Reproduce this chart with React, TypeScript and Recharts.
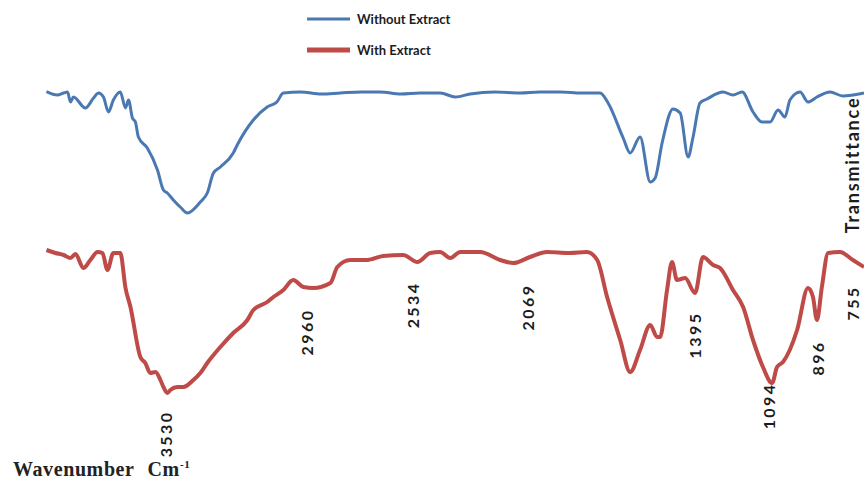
import React from 'react';
import { LineChart, Line, XAxis, YAxis, ReferenceDot, Legend } from 'recharts';

// FTIR spectra (wavenumber in cm-1, transmittance in offset units so the two traces stack)
const withoutWavenumber = [
  4010, 3966, 3941, 3925, 3913, 3901, 3853, 3820, 3800, 3780, 3760, 3740, 3712, 3691, 3679,
  3663, 3651, 3639, 3603, 3562, 3538, 3522, 3498, 3470, 3441, 3389, 3361, 3336, 3308, 3256,
  3240, 3175, 3119, 3080, 3054, 2985, 2900, 2824, 2740, 2663, 2580, 2501, 2420, 2360, 2300,
  2200, 2098, 2020, 1937, 1850, 1775, 1743, 1682, 1654, 1614, 1573, 1553, 1525, 1481, 1452,
  1420, 1400, 1372, 1344, 1279, 1239, 1202, 1158, 1122, 1089, 1057, 1029, 1009, 968, 936,
  900, 847, 795, 755, 710,
];
const withoutTransmittance = [
  87.1, 86.25, 86.75, 87, 84.5, 85.75, 83, 85.5, 86.75, 85.75, 82, 85, 87, 83, 85,
  80.5, 79.5, 75.75, 73, 67.5, 62.5, 61.75, 60, 58.25, 56.75, 59.5, 61.75, 66.75, 68.25, 71.75,
  73.75, 80, 83.25, 84.5, 86.75, 87, 86.5, 86.75, 87, 87, 86.5, 86.75, 86.75, 85.75, 86.5,
  87, 86.75, 87, 87, 86.75, 86.75, 84.25, 75.5, 71.75, 75.75, 64.5, 65.5, 74.25, 82.75, 81.75,
  70.75, 75.75, 84.25, 85.25, 87, 86.25, 87, 82, 79.5, 79.5, 82.5, 80.75, 85, 87, 84.5,
  85.75, 87, 86, 86.25, 86.75,
];

const withWavenumber = [
  4010, 3974, 3941, 3913, 3893, 3861, 3833, 3804, 3784, 3764, 3740, 3712, 3691, 3671, 3631,
  3611, 3591, 3570, 3550, 3538, 3522, 3510, 3482, 3457, 3417, 3389, 3361, 3308, 3256, 3199,
  3175, 3119, 3094, 3054, 3014, 2973, 2933, 2864, 2836, 2784, 2715, 2651, 2570, 2513, 2461,
  2421, 2380, 2340, 2259, 2179, 2126, 2058, 1989, 1900, 1828, 1787, 1747, 1694, 1654, 1614,
  1573, 1545, 1533, 1505, 1485, 1465, 1432, 1392, 1360, 1319, 1291, 1239, 1198, 1158, 1118,
  1081, 1061, 1037, 980, 936, 916, 900, 880, 855, 807, 755, 710,
];
const withTransmittance = [
  47.5, 46.75, 46.25, 45.5, 46.5, 43, 45, 47, 46.75, 42.5, 46.75, 46.75, 38, 33.25, 20.75,
  19.25, 16.75, 17, 15, 13.25, 11.75, 12.5, 13.25, 13.25, 15, 16.75, 19.25, 23.25, 26.75, 30,
  32.5, 34.5, 35.75, 37.5, 40, 38.25, 38, 39.25, 43.25, 45, 45, 46, 46.25, 44.5, 46.75,
  47, 45.5, 47, 47, 45, 44.25, 45.75, 47, 46.75, 47, 45, 35.75, 25, 17, 22.5,
  28.75, 25.75, 25.75, 37.5, 44.5, 40, 40.5, 36.75, 45.75, 43.75, 43, 37.5, 33.25, 25, 18.25,
  14.25, 18.25, 19.5, 27.5, 38, 35.75, 30, 38.25, 46.75, 47, 45, 43.25,
];

// Assigned bands and the height at which each band label sits
const bandWavenumbers = [3530, 2960, 2534, 2069, 1395, 1094, 896, 755];
const bandLabelLevels = [1.5, 27, 33.75, 33.25, 26.25, 8.5, 20.5, 34.25];

const seriesNames = ['Without Extract', 'With Extract'];
const seriesColors = ['#4A78B2', '#BE4B48'];
const seriesWidths = [3, 4];
const legendWidths = [3, 5];

const toPoints = (w: number[], t: number[]) => w.map((x, i) => ({ w: x, t: t[i] }));
const withoutData = toPoints(withoutWavenumber, withoutTransmittance);
const withData = toPoints(withWavenumber, withTransmittance);

const sansFont = "Lato, 'Open Sans', 'DejaVu Sans', sans-serif";
const serifFont = "'Liberation Serif', 'DejaVu Serif', serif";

const BandLabel = (props: any) => {
  const { viewBox, value } = props;
  const cx = viewBox.x + (viewBox.width || 0) / 2;
  const cy = viewBox.y + (viewBox.height || 0) / 2;
  return (
    <text
      x={cx}
      y={cy}
      transform={`rotate(-90 ${cx} ${cy})`}
      textAnchor="middle"
      dominantBaseline="central"
      fontFamily={sansFont}
      fontWeight={700}
      fontSize={16}
      letterSpacing={2.4}
      fill="#1c1c1c"
    >
      {value}
    </text>
  );
};

const XTitle = (props: any) => {
  const { viewBox } = props;
  return (
    <text
      x={viewBox.x - 31}
      y={viewBox.y + 36}
      fontFamily={serifFont}
      fontWeight={700}
      fontSize={20}
      letterSpacing={0.6}
      fill="#222"
    >
      Wavenumber
      <tspan dx={13}>Cm</tspan>
      <tspan dy={-8} fontSize={11}>-1</tspan>
    </text>
  );
};

// Vertical axis title, anchored on the right edge of the plot
const YTitle = (props: any) => {
  const { viewBox } = props;
  const cx = viewBox.x - 5;
  const cy = viewBox.y;
  return (
    <text
      x={cx}
      y={cy}
      transform={`rotate(-90 ${cx} ${cy})`}
      textAnchor="middle"
      fontFamily={sansFont}
      fontWeight={700}
      fontSize={18}
      letterSpacing={1.8}
      fill="#1c1c1c"
    >
      Transmittance
    </text>
  );
};

const LegendBox = () => (
  <svg width={180} height={64}>
    {seriesNames.map((name, i) => {
      const y = 19 + 31 * i;
      return (
        <g key={name}>
          <line x1={7} x2={50} y1={y} y2={y} stroke={seriesColors[i]} strokeWidth={legendWidths[i]} />
          <text
            x={57}
            y={y}
            dominantBaseline="central"
            fontFamily={sansFont}
            fontWeight={700}
            fontSize={13}
            fill="#1c1c1c"
          >
            {name}
          </text>
        </g>
      );
    })}
  </svg>
);

export default function App() {
  return (
    <div style={{ position: 'absolute', left: 0, top: 0, width: 864, height: 487, overflow: 'hidden', background: '#fff' }}>
      <LineChart width={864} height={487} margin={{ top: 40, right: 0, bottom: 0, left: 44 }}>
        <XAxis
          type="number"
          dataKey="w"
          domain={[710, 4020]}
          reversed
          allowDataOverflow
          tick={false}
          tickLine={false}
          axisLine={false}
          height={47}
          label={{ content: XTitle }}
        />
        <YAxis type="number" domain={[0, 100]} allowDataOverflow hide />
        <Legend
          layout="vertical"
          align="center"
          verticalAlign="middle"
          wrapperStyle={{ top: 0, left: 300, width: 180 }}
          content={LegendBox}
        />
        <Line
          data={withoutData}
          dataKey="t"
          name={seriesNames[0]}
          stroke={seriesColors[0]}
          strokeWidth={seriesWidths[0]}
          dot={false}
          type="monotone"
          isAnimationActive={false}
        />
        <Line
          data={withData}
          dataKey="t"
          name={seriesNames[1]}
          stroke={seriesColors[1]}
          strokeWidth={seriesWidths[1]}
          dot={false}
          type="monotone"
          isAnimationActive={false}
        />
        {bandWavenumbers.map((w, i) => (
          <ReferenceDot
            key={w}
            x={w}
            y={bandLabelLevels[i]}
            r={0}
            fill="none"
            stroke="none"
            ifOverflow="visible"
            label={{ value: String(w), content: BandLabel }}
          />
        ))}
        <ReferenceDot
          x={710}
          y={68.75}
          r={0}
          fill="none"
          stroke="none"
          ifOverflow="visible"
          label={{ content: YTitle }}
        />
      </LineChart>
    </div>
  );
}
